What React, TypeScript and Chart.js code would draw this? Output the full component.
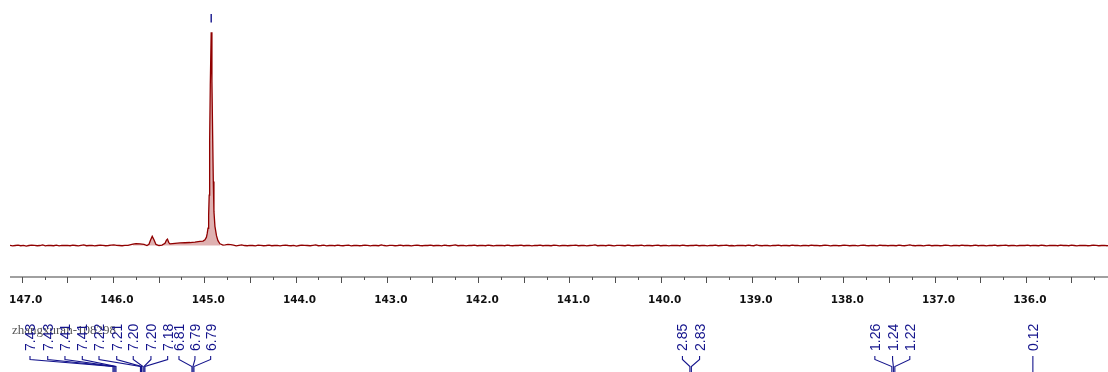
import React, { useEffect, useRef } from 'react';
import { Chart, registerables } from 'chart.js';

Chart.register(...registerables);

// ---- axis ----
const AXIS_MIN = 135.1;
const AXIS_MAX = 147.128;
const tickLabels = [147, 146, 145, 144, 143, 142, 141, 140, 139, 138, 137, 136];
const MINOR_STEP = 0.25;

// ---- spectrum (ppm / intensity) ----
const baseLeftStart = 147.13;
const baseStep = 0.03;
const noiseLeft = [
  0.1, -0.2, 0.0, 0.2, -0.1, 0.1, -0.3, 0.0, 0.2, 0.1,
  -0.1, 0.0, 0.3, -0.2, 0.1, 0.0, -0.1, 0.2, -0.2, 0.1,
  0.0, 0.1, -0.1, 0.2, 0.0, -0.2, 0.1, 0.3, -0.1, 0.0,
  0.1, -0.2, 0.0, 0.2, 0.1, -0.1, 0.0, 0.2, 0.3, 0.1,
  0.0, -0.1, 0.1,
];

const peakPpm = [
  145.836, 145.781, 145.748, 145.704, 145.66, 145.628, 145.606, 145.589, 145.57, 145.551,
  145.529, 145.496, 145.463, 145.43, 145.414, 145.403, 145.39, 145.376, 145.321, 145.266,
  145.211, 145.157, 145.102, 145.047, 145.014, 144.992, 144.976, 144.967, 144.959, 144.952,
  144.946, 144.941, 144.934, 144.924, 144.916, 144.908, 144.901, 144.894, 144.883, 144.866,
  144.85, 144.828, 144.795,
];
const peakInt = [
  0.1, 0.7, 0.9, 0.8, 0.5, 0.0, 0.6, 2.5, 4.3, 2.7,
  0.5, 0.0, 0.2, 1.0, 2.5, 3.0, 1.5, 0.8, 1.0, 1.2,
  1.3, 1.4, 1.6, 1.9, 2.1, 2.7, 3.9, 5.8, 8.1, 14.2,
  23.6, 49.4, 75.0, 100.0, 77.0, 51.7, 30.0, 16.0, 9.0, 4.6,
  2.3, 0.8, 0.2,
];

const baseRightStart = 144.77;
const noiseRight = [
  0.3, 0.5, 0.4, 0.2, -0.2, 0.1, 0.3, 0.0, -0.1, 0.1, 0.0, -0.2, 0.2, 0.1, -0.1, 0.0, 0.2, -0.1,
  0.0, 0.1, -0.2, 0.1, 0.2, 0.0, -0.1, 0.1, -0.3, 0.0, 0.2, 0.1, 0.0, -0.1, 0.1, 0.3, -0.1, 0.0,
  0.2, -0.2, 0.0, 0.1, -0.1, 0.2, 0.0, -0.1, 0.1, 0.2, -0.2, 0.0, 0.1, -0.1, 0.0, 0.2, 0.1, -0.2,
  0.1, 0.0, -0.1, 0.3, 0.0, -0.2, 0.1, 0.1, -0.1, 0.0, 0.2, -0.1, 0.1, 0.0, -0.2, 0.1, 0.2, 0.0,
  -0.1, 0.1, 0.0, 0.2, -0.1, 0.0, 0.1, -0.2, 0.2, 0.0, -0.1, 0.1, 0.3, -0.1, 0.0, 0.1, -0.2, 0.1,
  0.0, 0.2, -0.1, 0.0, 0.1, -0.1, 0.2, 0.0, -0.2, 0.1, 0.0, 0.1, -0.1, 0.2, 0.0, -0.1, 0.1, 0.0,
  0.2, -0.1, 0.0, 0.1, -0.2, 0.1, 0.0, 0.2, -0.1, 0.1, 0.0, -0.1, 0.2, 0.1, -0.2, 0.0, 0.1, -0.1,
  0.0, 0.1, 0.2, -0.1, 0.0, 0.1, -0.2, 0.0, 0.1, 0.3, -0.1, 0.0, 0.1, -0.1, 0.2, 0.0, -0.2, 0.1,
  0.1, 0.0, -0.1, 0.2, 0.0, -0.1, 0.1, 0.0, 0.2, -0.2, 0.1, 0.0, -0.1, 0.1, 0.2, -0.1, 0.0, 0.1,
  -0.2, 0.1, 0.0, 0.1, -0.1, 0.2, 0.0, -0.1, 0.1, 0.0, 0.2, -0.1, 0.0, 0.1, -0.2, 0.1, 0.0, 0.2,
  -0.1, 0.0, 0.1, 0.2, -0.1, 0.0, -0.2, 0.1, 0.0, 0.1, -0.1, 0.2, 0.0, -0.1, 0.3, 0.0, -0.1, 0.1,
  0.0, -0.2, 0.1, 0.0, 0.2, -0.1, 0.1, 0.0, -0.1, 0.2, 0.0, 0.1, -0.2, 0.0, 0.1, -0.1, 0.2, 0.0,
  0.1, -0.1, 0.0, 0.2, 0.1, -0.2, 0.0, 0.1, -0.1, 0.0, 0.2, 0.1, -0.1, 0.0, 0.1, -0.2, 0.1, 0.2,
  0.0, -0.1, 0.1, 0.0, -0.2, 0.2, 0.0, 0.1, -0.1, 0.1, 0.0, -0.1, 0.2, 0.0, -0.1, 0.1, 0.3, 0.0,
  -0.1, 0.1, 0.0, -0.2, 0.1, 0.2, -0.1, 0.0, 0.1, -0.1, 0.0, 0.2, 0.1, -0.2, 0.0, 0.1, -0.1, 0.2,
  0.0, 0.1, -0.1, 0.0, 0.2, -0.1, 0.1, 0.0, -0.2, 0.1, 0.0, 0.2, -0.1, 0.0, 0.1, 0.2, -0.1, 0.0,
  0.1, -0.2, 0.0, 0.1, 0.0, 0.2, -0.1, 0.1, 0.0, -0.1, 0.2, 0.0, -0.2, 0.1, 0.0, 0.1, -0.1, 0.2,
  0.0, 0.1, -0.1, 0.2, 0.0, -0.2, 0.1, 0.0, 0.1, -0.1, 0.0, 0.2, 0.1, -0.1, 0.0, 0.1, -0.1, 0.0,
];

const fillFrom = 145.79;
const fillTo = 144.8;

// ---- peak pick marker ----
const peakPicks = [144.924];

// ---- multiplet annotations (positions in axis units) ----
const annLabels = [
  '7.43', '7.43', '7.41', '7.41', '7.22', '7.21', '7.20', '7.20', '7.18', '6.81', '6.79', '6.79',
  '2.85', '2.83', '1.26', '1.24', '1.22', '0.12',
];
const annLabelPos = [
  146.909, 146.715, 146.526, 146.336, 146.153, 145.959, 145.778, 145.584, 145.401, 145.277, 145.102, 144.93,
  139.762, 139.574, 137.654, 137.46, 137.271, 135.923,
];
const annBottomPos = [
  146.0, 145.989, 145.978, 145.967, 145.699, 145.688, 145.671, 145.66, 145.65, 145.135, 145.124, 145.113,
  139.68, 139.664, 137.468, 137.451, 137.435, 135.923,
];
const watermark = 'zhangxuran-108298';

const SPEC_COLOR = '#900000';
const ANN_COLOR = '#14148c';

function buildSpectrum() {
  const pts: { x: number; y: number }[] = [];
  noiseLeft.forEach((v, i) => pts.push({ x: baseLeftStart - i * baseStep, y: v }));
  peakPpm.forEach((p, i) => pts.push({ x: p, y: peakInt[i] }));
  noiseRight.forEach((v, i) => pts.push({ x: baseRightStart - i * baseStep, y: v }));
  return pts;
}

function buildFill() {
  const pts: { x: number; y: number }[] = [];
  peakPpm.forEach((p, i) => {
    if (p <= fillFrom && p >= fillTo) pts.push({ x: p, y: peakInt[i] });
  });
  return pts;
}

const overlayPlugin = {
  id: 'nmrOverlay',
  afterDraw(chart: any) {
    const ctx: CanvasRenderingContext2D = chart.ctx;
    const xs = chart.scales.x;
    const area = chart.chartArea;
    const px = (v: number) => xs.getPixelForValue(v);
    ctx.save();

    // axis line
    ctx.strokeStyle = '#808080';
    ctx.lineWidth = 1.5;
    ctx.beginPath();
    ctx.moveTo(area.left, area.bottom);
    ctx.lineTo(area.right, area.bottom);
    ctx.stroke();

    // ticks
    ctx.strokeStyle = '#505050';
    ctx.lineWidth = 1;
    for (let k = 0; ; k++) {
      const v = tickLabels[0] - k * MINOR_STEP;
      if (v < AXIS_MIN) break;
      const x = Math.round(px(v)) + 0.5;
      const major = k % 2 === 0;
      ctx.beginPath();
      ctx.moveTo(x, area.bottom);
      ctx.lineTo(x, area.bottom + (major ? 6 : 3));
      ctx.stroke();
    }

    // peak pick marker
    ctx.strokeStyle = ANN_COLOR;
    ctx.lineWidth = 1.4;
    peakPicks.forEach((p) => {
      const x = px(p);
      ctx.beginPath();
      ctx.moveTo(x, 14);
      ctx.lineTo(x, 22.5);
      ctx.stroke();
    });

    // watermark
    ctx.fillStyle = '#555555';
    ctx.font = '13px "Liberation Serif", serif';
    ctx.textBaseline = 'alphabetic';
    ctx.textAlign = 'left';
    ctx.fillText(watermark, 12, 334);

    // annotation labels
    ctx.fillStyle = ANN_COLOR;
    ctx.strokeStyle = ANN_COLOR;
    ctx.lineWidth = 1.1;
    ctx.font = '14px "Liberation Sans", Arial, sans-serif';
    annLabels.forEach((lab, i) => {
      const x = px(annLabelPos[i]);
      const xb = px(annBottomPos[i]);
      ctx.save();
      ctx.translate(x, 351);
      ctx.rotate(-Math.PI / 2);
      ctx.textAlign = 'left';
      ctx.textBaseline = 'alphabetic';
      ctx.fillText(lab, 0, 5);
      ctx.restore();
      ctx.beginPath();
      ctx.moveTo(x, 356);
      ctx.lineTo(x, 359.5);
      ctx.lineTo(xb, 366.5);
      ctx.lineTo(xb, 372);
      ctx.stroke();
    });

    ctx.restore();
  },
};

export default function App() {
  const ref = useRef<HTMLCanvasElement>(null);
  useEffect(() => {
    const chart = new Chart(ref.current as HTMLCanvasElement, {
      type: 'line',
      data: {
        datasets: [
          {
            data: buildSpectrum(),
            borderColor: SPEC_COLOR,
            borderWidth: 1.3,
            pointRadius: 0,
            fill: false,
            tension: 0,
          },
          {
            data: buildFill(),
            borderColor: 'rgba(0,0,0,0)',
            borderWidth: 0,
            backgroundColor: 'rgba(175,60,60,0.4)',
            pointRadius: 0,
            fill: 'origin',
            tension: 0,
          },
        ],
      },
      options: {
        animation: false,
        responsive: false,
        devicePixelRatio: 1,
        layout: { padding: { left: 10, right: 0, top: 10, bottom: 0 } },
        plugins: { legend: { display: false }, tooltip: { enabled: false } },
        events: [],
        scales: {
          x: {
            type: 'linear',
            reverse: true,
            min: AXIS_MIN,
            max: AXIS_MAX,
            grid: { display: false, drawTicks: false },
            border: { display: false },
            afterBuildTicks: (s: any) => {
              s.ticks = tickLabels.map((v) => ({ value: v }));
            },
            afterFit: (s: any) => {
              s.height = 95;
              s.paddingLeft = 0;
              s.paddingRight = 0;
            },
            ticks: {
              autoSkip: false,
              maxRotation: 0,
              padding: 17,
              labelOffset: 4,
              color: '#111111',
              font: { family: '"DejaVu Sans", sans-serif', size: 10.5, weight: 'bold' },
              callback: (v: any) => Number(v).toFixed(1),
            },
          },
          y: {
            display: false,
            min: -14.77,
            max: 110.46,
          },
        },
      },
      plugins: [overlayPlugin],
    } as any);
    return () => chart.destroy();
  }, []);
  return (
    <div style={{ position: 'fixed', left: 0, top: 0, width: 1108, height: 372, background: '#ffffff' }}>
      <canvas ref={ref} width={1108} height={372} style={{ display: 'block' }} />
    </div>
  );
}
